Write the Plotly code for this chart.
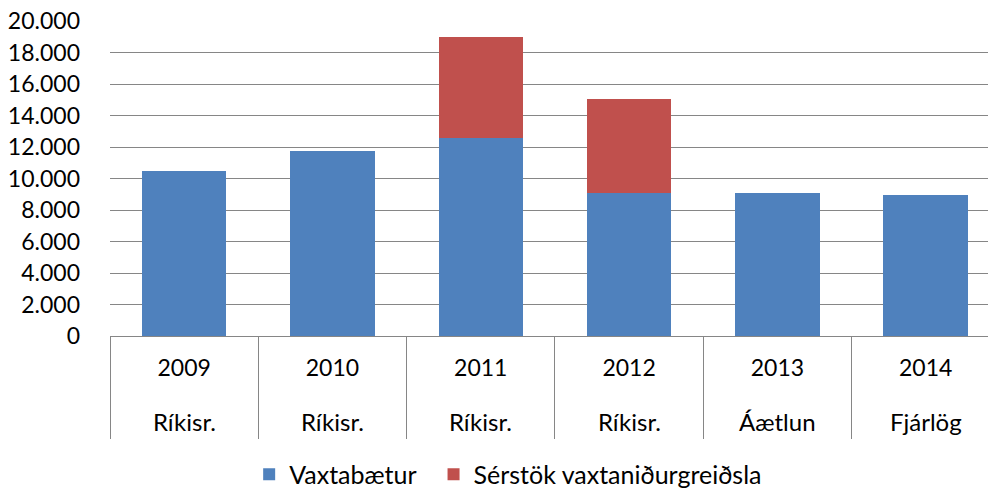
import plotly.graph_objects as go

years = ["2009", "2010", "2011", "2012", "2013", "2014"]
kinds = ["Ríkisr.", "Ríkisr.", "Ríkisr.", "Ríkisr.", "Áætlun", "Fjárlög"]
vaxtabaetur = [10470, 11740, 12560, 9090, 9090, 8940]
serstok = [None, None, 6400, 5940, None, None]

series_names = ["Vaxtabætur", "Sérstök vaxtaniðurgreiðsla"]
colors = ["#4F81BD", "#C0504D"]

FONT = "Lato"
GRID = "#868686"

fig = go.Figure()
fig.add_trace(go.Bar(x=years, y=vaxtabaetur, name=series_names[0],
                     marker=dict(color=colors[0], line=dict(width=0)),
                     legend="legend", showlegend=True))
fig.add_trace(go.Bar(x=years, y=serstok, name=series_names[1],
                     marker=dict(color=colors[1], line=dict(width=0)),
                     legend="legend2", showlegend=True))

xr = [-0.5, len(years) - 0.58]

# second row of category labels (plan type under each year)
for i, kind in enumerate(kinds):
    fig.add_annotation(x=i, y=0, xref="x", yref="paper", text=kind,
                       showarrow=False, xanchor="center", yanchor="middle",
                       yshift=-85, font=dict(family=FONT, size=24, color="#000000"))

legend_common = dict(orientation="h", xanchor="left", y=-0.44, yanchor="middle",
                     font=dict(family=FONT, size=25), bgcolor="rgba(0,0,0,0)",
                     visible=True)

fig.update_layout(
    width=988, height=488, autosize=False,
    margin=dict(l=110, r=0, t=21, b=152, autoexpand=False),
    paper_bgcolor="white", plot_bgcolor="white",
    barmode="stack", bargap=0.43,
    separators=",.",
    showlegend=True,
    font=dict(family=FONT, size=23, color="#000000"),
    xaxis=dict(
        type="category", categoryorder="array", categoryarray=years,
        range=xr, showline=True, linecolor=GRID, linewidth=1,
        ticks="outside", tickson="boundaries", ticklen=102,
        tickcolor=GRID, tickwidth=1, showgrid=False, automargin=False,
        ticklabelstandoff=11, tickfont=dict(family=FONT, size=23),
    ),
    yaxis=dict(
        range=[0, 20000], dtick=2000, tickformat=",d",
        showgrid=True, gridcolor=GRID, gridwidth=1, automargin=False,
        showline=False, zeroline=False, ticks="",
        ticklabelstandoff=29, tickfont=dict(family=FONT, size=23),
    ),
    legend=dict(x=0.1585, **legend_common),
    legend2=dict(x=0.3685, **legend_common),
)

fig.write_html("out.html", config={"displayModeBar": False},
               post_script="document.body.style.margin='0';document.body.style.overflow='hidden';")
